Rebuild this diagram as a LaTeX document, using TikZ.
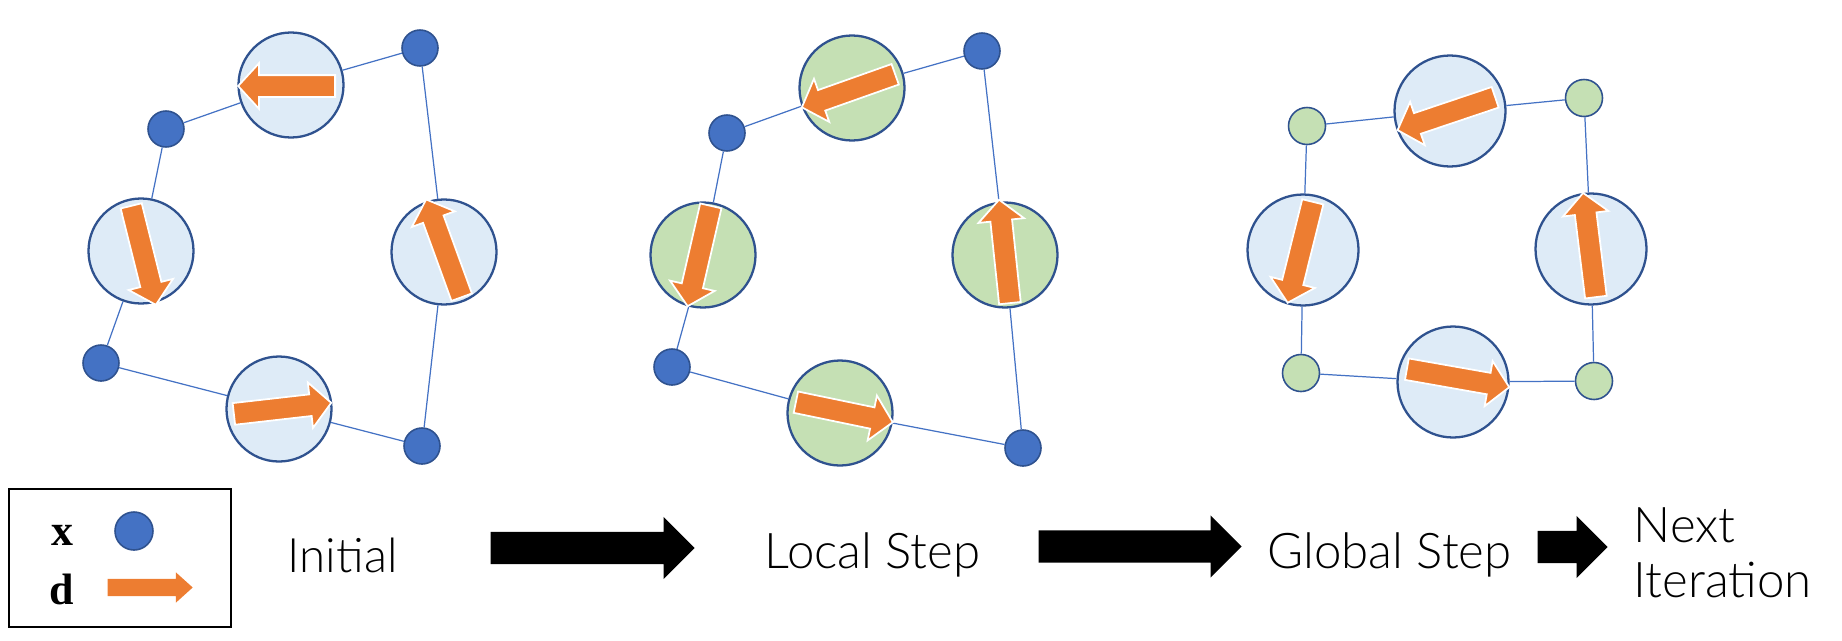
\documentclass[tikz,border=0pt]{standalone}
\usepackage{fontspec}
\setmainfont{Lato}[UprightFont={* Light}]
\newfontfamily\legendfont{Liberation Serif}
\usepackage{tikz}
\usetikzlibrary{shapes.arrows, positioning}
\definecolor{myblue}{RGB}{68,114,196}
\definecolor{mynavy}{RGB}{47,82,143}
\definecolor{myorange}{RGB}{237,125,49}
\definecolor{hdrblue}{RGB}{222,235,247}
\definecolor{hdrgreen}{RGB}{197,224,180}
\tikzset{
  dirdisc/.style={circle, draw=mynavy, fill=hdrblue, minimum size=1.05cm,
    inner sep=0pt, line width=0.65pt},
  greendisc/.style={dirdisc, fill=hdrgreen},
  xdot/.style={circle, draw=mynavy, fill=myblue, minimum size=0.36cm,
    inner sep=0pt, line width=0.45pt},
  xgreen/.style={xdot, fill=hdrgreen, minimum size=0.37cm},
  dvec/.style={single arrow, fill=myorange, draw=white, line width=0.5pt,
    inner xsep=0pt, inner ysep=0.1cm, single arrow head extend=0.12cm,
    single arrow tip angle=95, anchor=tail},
  bigarrow/.style={single arrow, fill=black, inner xsep=0pt, inner ysep=0.155cm,
    single arrow head extend=0.15cm, single arrow tip angle=90, anchor=tail},
  label/.style={font=\fontsize{14}{15.5}\selectfont, inner sep=0pt},
  link/.style={color=myblue, line width=0.35pt}
}

\begin{document}
\begin{tikzpicture}
  \useasboundingbox (0,0) rectangle (18.42,6.40);

  % Initial
  \node[xdot] (n1a) at (1.66,5.11) {};
  \node[dirdisc] (c1t) at (2.91,5.55) {};
  \node[xdot] (n1b) at (4.20,5.92) {};
  \node[dirdisc] (c1r) at (4.44,3.88) {};
  \node[xdot] (n1c) at (4.22,1.94) {};
  \node[dirdisc] (c1b) at (2.79,2.31) {};
  \node[xdot] (n1d) at (1.01,2.77) {};
  \node[dirdisc] (c1l) at (1.41,3.89) {};
  \draw[link] (n1a) -- (c1t) -- (n1b) -- (c1r) -- (n1c) -- (c1b) -- (n1d) -- (c1l) -- (n1a);
  \node[dvec, minimum height=0.97cm, rotate=180]  (a1t) at (3.36,5.54) {};
  \node[dvec, minimum height=1.02cm, rotate=-76]  (a1l) at (1.31,4.35) {};
  \node[dvec, minimum height=1.04cm, rotate=110]  (a1r) at (4.62,3.42) {};
  \node[dvec, minimum height=0.98cm, rotate=6.5]  (a1b) at (2.33,2.26) {};

  % Local step
  \node[xdot] (n2a) at (7.27,5.07) {};
  \node[greendisc] (c2t) at (8.52,5.52) {};
  \node[xdot] (n2b) at (9.82,5.89) {};
  \node[greendisc] (c2r) at (10.05,3.85) {};
  \node[xdot] (n2c) at (10.23,1.92) {};
  \node[greendisc] (c2b) at (8.40,2.27) {};
  \node[xdot] (n2d) at (6.72,2.73) {};
  \node[greendisc] (c2l) at (7.03,3.85) {};
  \draw[link] (n2a) -- (c2t) -- (n2b) -- (c2r) -- (n2c) -- (c2b) -- (n2d) -- (c2l) -- (n2a);
  \node[dvec, minimum height=0.99cm, rotate=199.5] (a2t) at (8.96,5.66) {};
  \node[dvec, minimum height=1.03cm, rotate=-103]  (a2l) at (7.11,4.35) {};
  \node[dvec, minimum height=1.04cm, rotate=96]    (a2r) at (10.10,3.36) {};
  \node[dvec, minimum height=0.99cm, rotate=-11.7] (a2b) at (7.95,2.38) {};

  % Global step
  \node[xgreen] (n3a) at (13.07,5.14) {};
  \node[dirdisc, minimum size=1.11cm] (c3t) at (14.50,5.29) {};
  \node[xgreen] (n3b) at (15.84,5.42) {};
  \node[dirdisc, minimum size=1.11cm] (c3r) at (15.91,3.91) {};
  \node[xgreen] (n3c) at (15.94,2.59) {};
  \node[dirdisc, minimum size=1.11cm] (c3b) at (14.53,2.58) {};
  \node[xgreen] (n3d) at (13.01,2.67) {};
  \node[dirdisc, minimum size=1.11cm] (c3l) at (13.03,3.90) {};
  \draw[link] (n3a) -- (c3t) -- (n3b) -- (c3r) -- (n3c) -- (c3b) -- (n3d) -- (c3l) -- (n3a);
  \node[dvec, minimum height=1.03cm, rotate=198.6] (a3t) at (14.96,5.43) {};
  \node[dvec, minimum height=1.04cm, rotate=-104]  (a3l) at (13.13,4.39) {};
  \node[dvec, minimum height=1.05cm, rotate=97]    (a3r) at (15.96,3.42) {};
  \node[dvec, minimum height=1.04cm, rotate=-10]   (a3b) at (14.06,2.71) {};

  % Legend
  \draw[line width=0.45pt] (0.09,0.13) rectangle (2.31,1.51);
  \node[font=\legendfont\bfseries\fontsize{12.5}{13}\selectfont, anchor=base, inner sep=0pt] (lx) at (0.62,0.95) {x};
  \node[font=\legendfont\bfseries\fontsize{12.5}{13}\selectfont, anchor=base, inner sep=0pt] (ld) at (0.62,0.36) {d};
  \node[xdot, minimum size=0.38cm] (lxdot) at (1.34,1.09) {};
  \node[single arrow, fill=myorange, minimum height=0.85cm, inner xsep=0pt, inner ysep=0.08cm,
    single arrow head extend=0.065cm, single arrow tip angle=84, anchor=tail] (ldvec) at (1.07,0.525) {};

  % Stages
  \node[label, font=\fontsize{13.5}{15}\selectfont, anchor=base] (init) at (3.425,0.68) {Initial};
  \node[bigarrow, minimum height=2.04cm] (s1) at (4.90,0.92) {};
  \node[label, anchor=base] (local) at (8.725,0.72) {Local Step};
  \node[bigarrow, minimum height=2.03cm] (s2) at (10.38,0.935) {};
  \node[label, anchor=base] (global) at (13.895,0.72) {Global Step};
  \node[bigarrow, minimum height=0.70cm] (s3) at (15.37,0.93) {};
  \node[label, anchor=west, align=left] (next) at (16.33,0.87) {Next\\Iteration};
\end{tikzpicture}
\end{document}
